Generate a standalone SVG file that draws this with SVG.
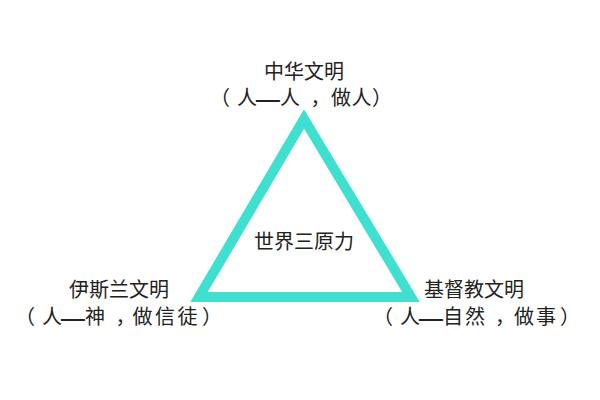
<svg xmlns="http://www.w3.org/2000/svg" width="600" height="400" viewBox="0 0 600 400">
<style>
text{font-family:"Noto Sans CJK SC","Noto Sans",sans-serif;font-size:20px;fill:#222;text-anchor:middle}
.d{font-size:30px}
.tri{fill:none;stroke:#40e0d0;stroke-width:10;stroke-linejoin:miter;stroke-miterlimit:10}
</style>
<rect width="600" height="400" fill="#fff"/>
<g id="connectors">
<polygon class="tri" points="304,119 411,297 199,297"/>
</g>
<g id="center"><text x="304" y="249">世界三原力</text></g>
<g id="chinese"><text x="304" y="79">中华文明</text><text y="105"><tspan x="220 247">（人</tspan><tspan class="d" x="268" y="109">—</tspan><tspan x="290 320.5 341 361.5 382" y="105">人，做人）</tspan></text></g>
<g id="islamic"><text x="119" y="297">伊斯兰文明</text><text y="324"><tspan x="25 52">（人</tspan><tspan class="d" x="73" y="328">—</tspan><tspan x="95 125.5 142.5 165 187.5 212" y="324">神，做信徒）</tspan></text></g>
<g id="christian"><text x="474" y="297">基督教文明</text><text y="324"><tspan x="383 410">（人</tspan><tspan class="d" x="431" y="328">—</tspan><tspan x="453 475 505 524 546 570" y="324">自然，做事）</tspan></text></g>
</svg>
